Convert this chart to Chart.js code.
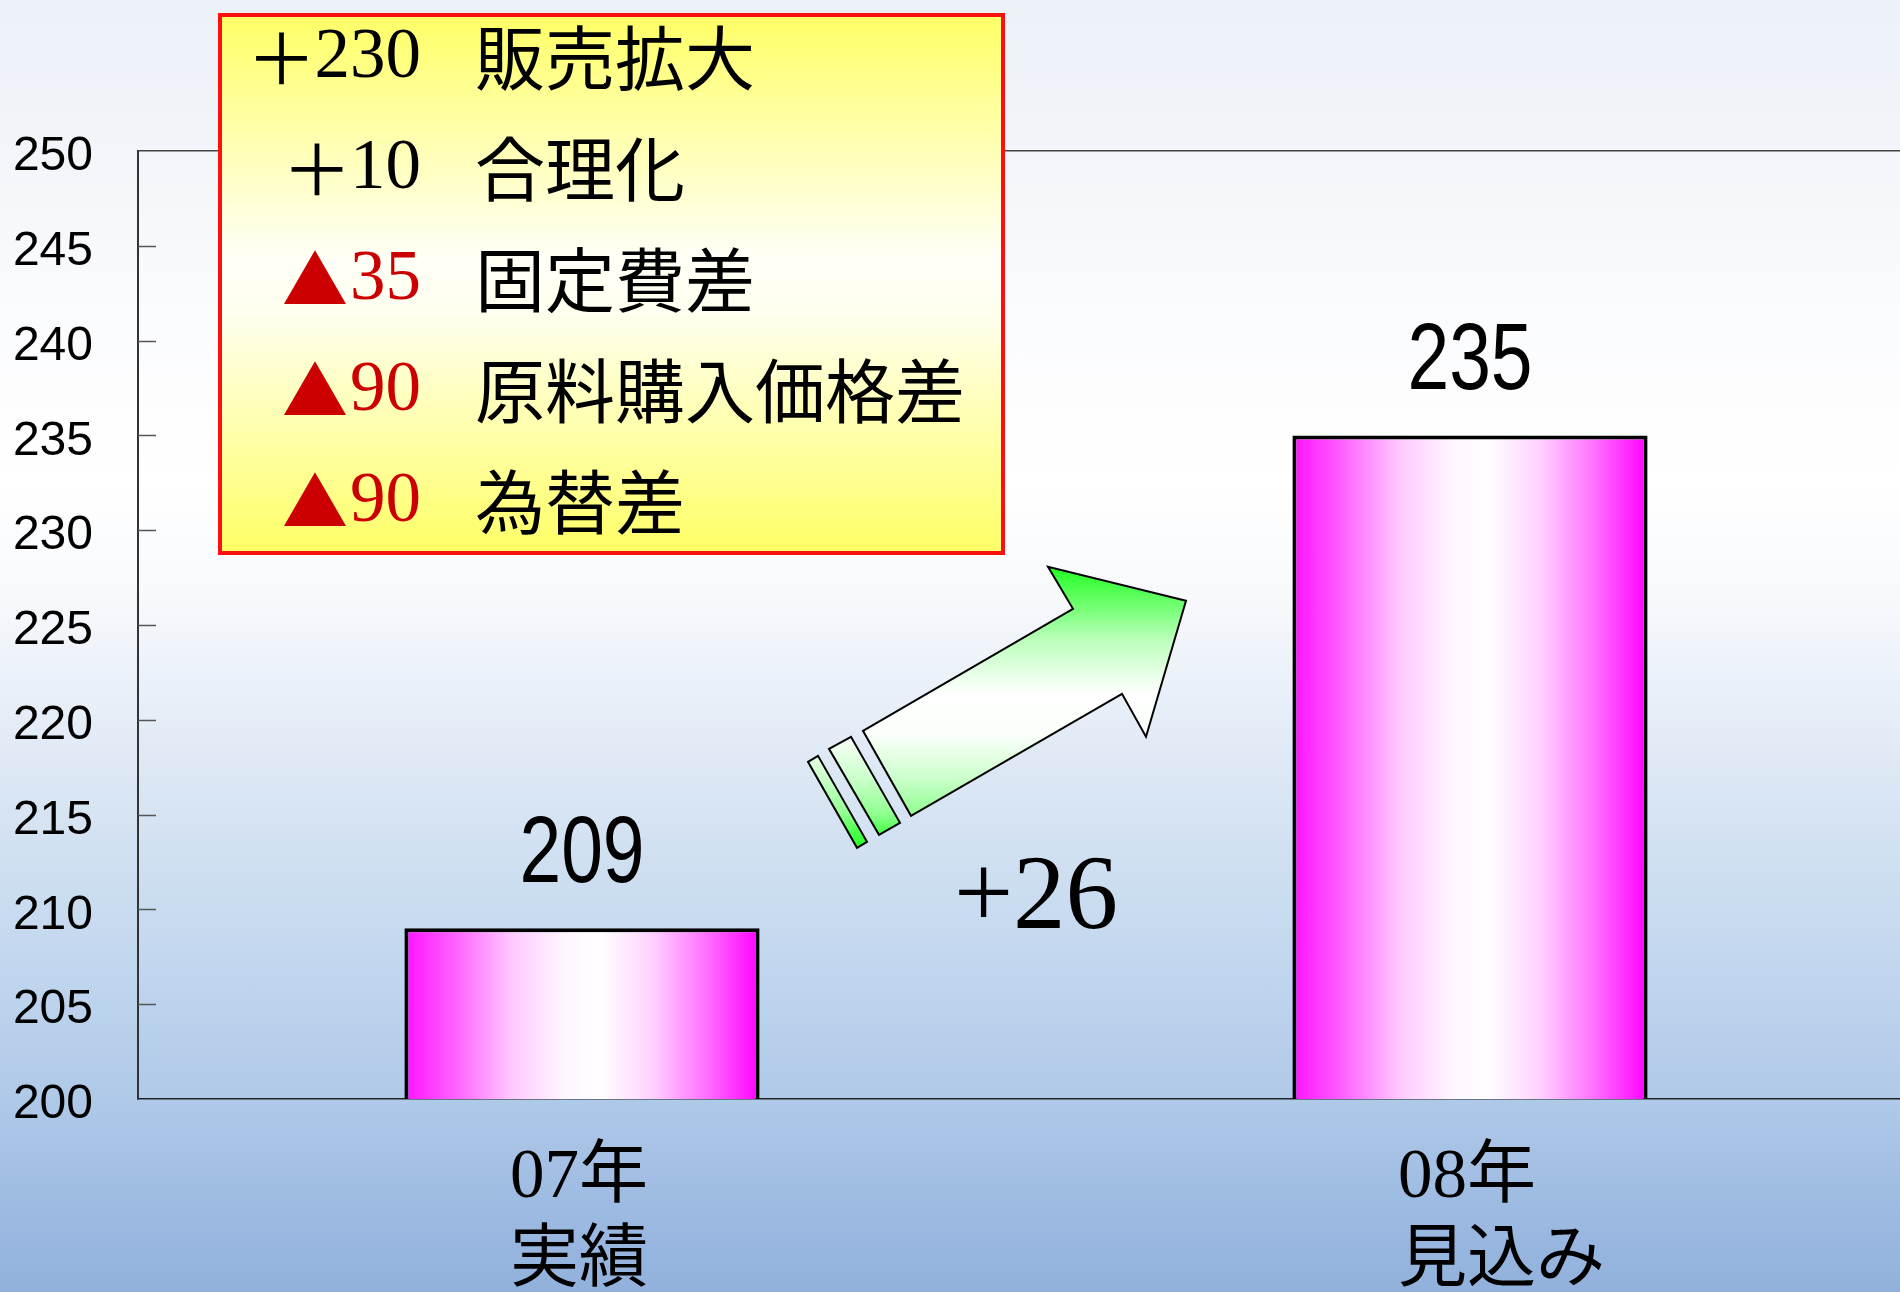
<!DOCTYPE html>
<html lang="ja">
<head>
<meta charset="utf-8">
<title>営業利益の変動</title>
<script src="https://cdn.jsdelivr.net/npm/chart.js@4.4.1/dist/chart.umd.min.js"></script>
<style>
  html, body { margin: 0; padding: 0; width: 1900px; height: 1292px; overflow: hidden; }
  body {
    background: linear-gradient(to bottom,
      #ecf1f8 0px, #f2f5f9 150px, #fafbfd 300px, #ffffff 480px, #f7f9fc 600px,
      #e8eff8 700px, #d8e5f3 800px, #cadcf0 900px, #bdd3ed 1000px,
      #afc9e8 1100px, #9ebbe2 1200px, #91b1dc 1292px);
  }
  #wrap { width: 1920px; height: 1300px; }
</style>
</head>
<body>
<div id="wrap"><canvas id="chart" width="1920" height="1300"></canvas></div>
<script>
// données du graphique
const categories = [["07年", "実績"], ["08年", "見込み"]];
const values = [209, 235];
const yMin = 200, yMax = 250, yStep = 5;
const deltaLabel = "+26";

// détail des écarts (encadré jaune)
const factorValues = [230, 10, -35, -90, -90];
const factorNames = ["販売拡大", "合理化", "固定費差", "原料購入価格差", "為替差"];

// police étroite dispo ?
function fontAvailable(name) {
  const c = document.createElement("canvas").getContext("2d");
  c.font = "100px monospace";
  const a = c.measureText("2505Wwi").width;
  c.font = `100px "${name}", monospace`;
  const b = c.measureText("2505Wwi").width;
  return a !== b;
}
const hasNarrow = fontAvailable("Liberation Sans Narrow");
const tickFont = hasNarrow
  ? { family: "'Liberation Sans Narrow'", size: 58 }
  : { family: "'Liberation Sans', Arial", size: 48 };

const SERIF_JP = "'Liberation Serif', 'Noto Sans CJK JP'";
const GOTHIC_JP = "'Noto Sans CJK JP'";

function barGradient(c) {
  const chart = c.chart;
  if (!chart.chartArea || c.dataIndex === undefined) return "#ff66ff";
  const xs = chart.scales.x;
  const cx = xs.getPixelForValue(c.dataIndex);
  const half = xs.width / categories.length * 0.4 / 2;
  const g = chart.ctx.createLinearGradient(cx - half, 0, cx + half, 0);
  g.addColorStop(0, "#ff11ff");
  g.addColorStop(0.15, "#ff66ff");
  g.addColorStop(0.3, "#ffc8ff");
  g.addColorStop(0.45, "#fff6ff");
  g.addColorStop(0.55, "#ffffff");
  g.addColorStop(0.7, "#ffd0ff");
  g.addColorStop(0.85, "#ff70ff");
  g.addColorStop(1, "#ff00ff");
  return g;
}

// petites graduations vers l'intérieur
const innerTicks = {
  id: "innerTicks",
  afterDatasetsDraw(chart) {
    const { ctx, scales: { y } } = chart;
    ctx.save();
    ctx.strokeStyle = "#555";
    ctx.lineWidth = 1.5;
    y.ticks.forEach(t => {
      if (t.value === yMin || t.value === yMax) return;
      const py = Math.round(y.getPixelForValue(t.value)) + 0.5;
      ctx.beginPath();
      ctx.moveTo(y.right, py);
      ctx.lineTo(y.right + 18, py);
      ctx.stroke();
    });
    ctx.restore();
  }
};

// valeurs au-dessus des barres, flèche et écart
const annotations = {
  id: "annotations",
  afterDatasetsDraw(chart) {
    const { ctx, scales: { x, y } } = chart;
    const meta = chart.getDatasetMeta(0);

    ctx.save();
    ctx.fillStyle = "#000";
    ctx.textAlign = "center";
    ctx.textBaseline = "alphabetic";
    meta.data.forEach((bar, i) => {
      ctx.save();
      ctx.translate(bar.x, bar.y - 46);
      if (hasNarrow) {
        ctx.font = "92px 'Liberation Sans Narrow'";
      } else {
        ctx.font = "75px 'Liberation Sans', Arial";
        ctx.scale(1, 1.27);
      }
      ctx.fillText(String(values[i]), 0, 0);
      ctx.restore();
    });

    // flèche : placée entre les deux catégories
    const ax = (x.getPixelForValue(0) + x.getPixelForValue(1)) / 2;
    const ay = y.getPixelForValue(220);
    const g = ctx.createLinearGradient(0, ay - 153, 0, ay + 128);
    g.addColorStop(0, "#22ff22");
    g.addColorStop(0.12, "#66ff66");
    g.addColorStop(0.26, "#bbffbb");
    g.addColorStop(0.45, "#ffffff");
    g.addColorStop(0.6, "#fafffa");
    g.addColorStop(0.75, "#ccffcc");
    g.addColorStop(0.88, "#90ff90");
    g.addColorStop(0.94, "#50ff50");
    g.addColorStop(1, "#22ff22");
    const shapes = [
      [[-163, 11], [47, -111], [22, -153], [160, -119], [120, 17], [96, -26], [-115, 96]],
      [[-197, 29], [-175, 17], [-126, 103], [-147, 115]],
      [[-218, 42], [-208, 36], [-159, 122], [-169, 128]]
    ];
    ctx.fillStyle = g;
    ctx.strokeStyle = "#000";
    ctx.lineWidth = 2;
    ctx.lineJoin = "miter";
    shapes.forEach(pts => {
      ctx.beginPath();
      pts.forEach(([dx, dy], k) => k ? ctx.lineTo(ax + dx, ay + dy) : ctx.moveTo(ax + dx, ay + dy));
      ctx.closePath();
      ctx.fill();
      ctx.stroke();
    });

    ctx.fillStyle = "#000";
    ctx.font = "105px 'Liberation Serif'";
    ctx.textAlign = "center";
    ctx.fillText(deltaLabel, ax + 10, ay + 208);
    ctx.restore();
  }
};

// encadré jaune avec le détail
const factorBox = {
  id: "factorBox",
  afterDraw(chart) {
    const ctx = chart.ctx;
    const left = 220, top = 15, right = 1003, bottom = 553;
    ctx.save();
    const g = ctx.createLinearGradient(0, top, 0, bottom);
    g.addColorStop(0, "#ffff66");
    g.addColorStop(0.45, "#fffff6");
    g.addColorStop(0.55, "#fffff0");
    g.addColorStop(1, "#ffff66");
    ctx.fillStyle = g;
    ctx.fillRect(left, top, right - left, bottom - top);
    ctx.strokeStyle = "#ff1010";
    ctx.lineWidth = 4;
    ctx.strokeRect(left, top, right - left, bottom - top);

    ctx.textBaseline = "middle";
    factorValues.forEach((v, i) => {
      const cy = 58 + i * 111;
      const neg = v < 0;
      const numRight = 421;
      const digits = String(Math.abs(v));
      ctx.font = "71px 'Liberation Serif'";
      const w = ctx.measureText(digits).width;
      ctx.textAlign = "right";
      ctx.fillStyle = neg ? "#cc0000" : "#000";
      ctx.fillText(digits, numRight, cy);
      ctx.font = (neg ? "66px " : "70px ") + GOTHIC_JP;
      ctx.fillText(neg ? "▲" : "＋", numRight - w + (neg ? -2 : 2), cy);

      ctx.textAlign = "left";
      ctx.fillStyle = "#000";
      ctx.font = "70px " + GOTHIC_JP;
      ctx.fillText(factorNames[i], 475, cy);
    });
    ctx.restore();
  }
};

new Chart(document.getElementById("chart"), {
  type: "bar",
  data: {
    labels: categories,
    datasets: [{
      data: values,
      backgroundColor: barGradient,
      borderColor: "#000",
      borderWidth: 4,
      borderSkipped: false,
      barPercentage: 0.4,
      categoryPercentage: 1.0
    }]
  },
  options: {
    responsive: false,
    animation: false,
    layout: { padding: { top: 151, right: 6, left: 0, bottom: 0 } },
    plugins: { legend: { display: false }, tooltip: { enabled: false } },
    scales: {
      x: {
        grid: { display: false, drawTicks: false },
        border: { display: true, color: "#222", width: 1.5 },
        ticks: {
          color: "#000",
          padding: 37,
          align: "start",
          labelOffset: -72,
          font: { family: SERIF_JP, size: 69, lineHeight: 1.23 }
        },
        afterFit(scale) { scale.height = 201; }
      },
      y: {
        min: yMin,
        max: yMax,
        grid: {
          drawTicks: false,
          lineWidth: 1.5,
          color: c => (c.tick && c.tick.value === yMax) ? "#444" : "rgba(0,0,0,0)"
        },
        border: { display: true, color: "#333", width: 2 },
        ticks: {
          stepSize: yStep,
          color: "#000",
          padding: 45,
          labelOffset: 6,
          font: tickFont
        },
        afterFit(scale) { scale.width = 138; }
      }
    }
  },
  plugins: [innerTicks, annotations, factorBox]
});
</script>
</body>
</html>
